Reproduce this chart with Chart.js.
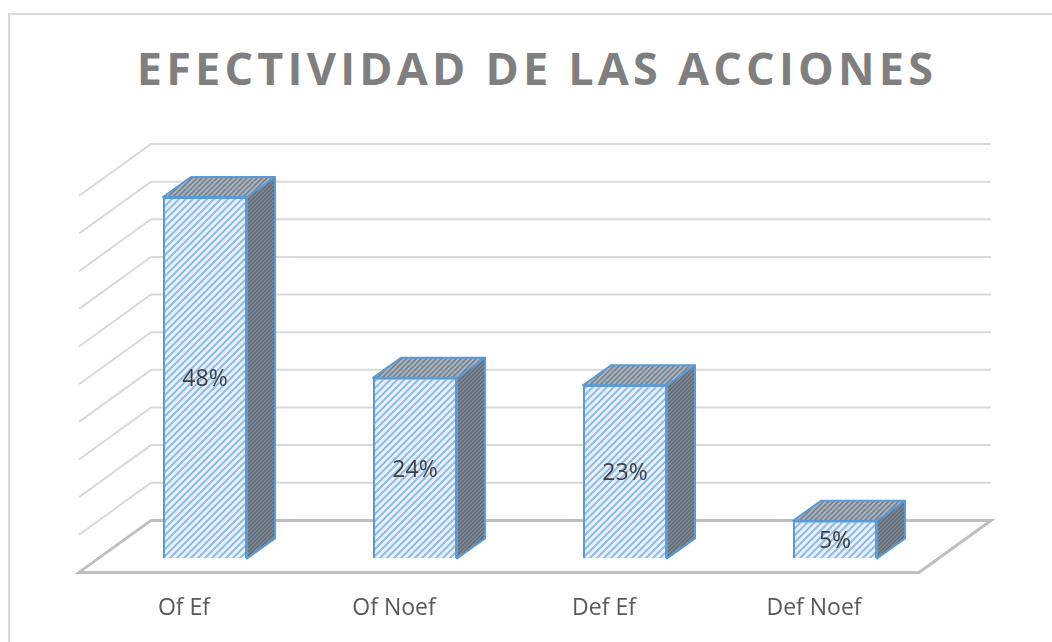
<!DOCTYPE html>
<html>
<head>
<meta charset="utf-8">
<script src="https://cdn.jsdelivr.net/npm/chart.js@4"></script>
<style>
  html, body { margin: 0; padding: 0; background: #fff; overflow: hidden; }
  #frame {
    position: absolute; left: 8px; top: 13px; width: 1100px; height: 700px;
    border: 2px solid #d9d9d9; box-sizing: border-box;
  }
  #title {
    position: absolute; left: 0; width: 1074px; top: 37px; text-align: center;
    font-family: "Open Sans", sans-serif; font-weight: 700; font-size: 45px;
    letter-spacing: 4.2px; color: #7f7f7f; white-space: nowrap;
  }
  #canva { position: absolute; left: 0; top: 0; }
</style>
</head>
<body>
<div id="frame"></div>
<div id="title">EFECTIVIDAD DE LAS ACCIONES</div>
<canvas id="canva" width="1052" height="720"></canvas>
<script>
const categories = ["Of Ef", "Of Noef", "Def Ef", "Def Noef"];
const values = [48, 24, 23, 5];
const axisMax = 50;
const axisStep = 5;

// depth offsets relative to the bar front plane
const BACK = { dx: 51, dy: -38 };
const FRONT = { dx: -21, dy: 14 };
const BAR_DEPTH = { dx: 28, dy: -20 };

function makePattern(bg, fg, size, lw) {
  const c = document.createElement("canvas");
  c.width = size;
  c.height = size;
  const g = c.getContext("2d");
  g.fillStyle = bg;
  g.fillRect(0, 0, size, size);
  g.strokeStyle = fg;
  g.lineWidth = lw;
  g.beginPath();
  g.moveTo(-1, 1); g.lineTo(1, -1);
  g.moveTo(0, size); g.lineTo(size, 0);
  g.moveTo(size - 1, size + 1); g.lineTo(size + 1, size - 1);
  g.stroke();
  return g.createPattern(c, "repeat");
}

const canvas = document.getElementById("canva");
const ctx = canvas.getContext("2d");

const frontFill = makePattern("#e8f1fb", "#92bbe5", 7, 2);
const topFill = makePattern("#a9b2bc", "#6f7d8c", 5, 1.5);
const sideFill = makePattern("#7f8994", "#5b6672", 4, 1.2);

const excel3d = {
  id: "excel3d",
  beforeDatasetsDraw(chart) {
    const c = chart.ctx;
    const area = chart.chartArea;
    const y = chart.scales.y;
    c.save();
    c.strokeStyle = "#d9d9d9";
    c.lineWidth = 2;
    y.ticks.forEach((t) => {
      if (t.value <= 0) return;
      const yb = y.getPixelForValue(t.value) + BACK.dy;
      c.beginPath();
      c.moveTo(area.right + BACK.dx, yb);
      c.lineTo(area.left + BACK.dx, yb);
      c.lineTo(area.left + FRONT.dx, yb + FRONT.dy - BACK.dy);
      c.stroke();
    });
    const y0 = y.getPixelForValue(0);
    c.strokeStyle = "#bfbfbf";
    c.lineWidth = 3;
    c.beginPath();
    c.moveTo(area.left + BACK.dx, y0 + BACK.dy);
    c.lineTo(area.right + BACK.dx, y0 + BACK.dy);
    c.lineTo(area.right + FRONT.dx, y0 + FRONT.dy);
    c.lineTo(area.left + FRONT.dx, y0 + FRONT.dy);
    c.closePath();
    c.stroke();
    c.restore();
  },
  afterDatasetsDraw(chart) {
    const c = chart.ctx;
    const meta = chart.getDatasetMeta(0);
    c.save();
    c.lineJoin = "round";
    c.strokeStyle = "#5b9bd5";
    c.lineWidth = 2;
    meta.data.forEach((bar, i) => {
      const x1 = bar.x - bar.width / 2;
      const x2 = bar.x + bar.width / 2;
      const top = bar.y;
      const base = bar.base;
      const dx = BAR_DEPTH.dx, dy = BAR_DEPTH.dy;
      // top face
      c.beginPath();
      c.moveTo(x1, top);
      c.lineTo(x1 + dx, top + dy);
      c.lineTo(x2 + dx, top + dy);
      c.lineTo(x2, top);
      c.closePath();
      c.fillStyle = topFill;
      c.fill();
      c.stroke();
      // side face
      c.beginPath();
      c.moveTo(x2, top);
      c.lineTo(x2 + dx, top + dy);
      c.lineTo(x2 + dx, base + dy);
      c.lineTo(x2, base);
      c.closePath();
      c.fillStyle = sideFill;
      c.fill();
      c.stroke();
      // value label
      c.fillStyle = "#404040";
      c.font = "23px 'Open Sans', sans-serif";
      c.textAlign = "center";
      c.textBaseline = "middle";
      c.fillText(values[i] + "%", bar.x, (top + base) / 2 + 2);
    });
    c.restore();
  },
};

const myChart = new Chart(ctx, {
  type: "bar",
  data: {
    labels: categories,
    datasets: [
      {
        data: values,
        backgroundColor: frontFill,
        borderColor: "#5b9bd5",
        borderWidth: 2,
        barPercentage: 0.8,
        categoryPercentage: 0.5,
      },
    ],
  },
  options: {
    responsive: false,
    animation: false,
    layout: { padding: { left: 100, right: 112, top: 182, bottom: 70 } },
    scales: {
      y: {
        display: false,
        min: 0,
        max: axisMax,
        ticks: { stepSize: axisStep },
      },
      x: {
        grid: { display: false },
        border: { display: false },
        ticks: {
          labelOffset: -21,
          padding: 28,
          color: "#595959",
          font: { family: "'Open Sans', sans-serif", size: 23 },
        },
      },
    },
    plugins: {
      legend: { display: false },
      tooltip: { enabled: false },
      title: { display: false },
    },
  },
  plugins: [excel3d],
});
</script>
</body>
</html>
